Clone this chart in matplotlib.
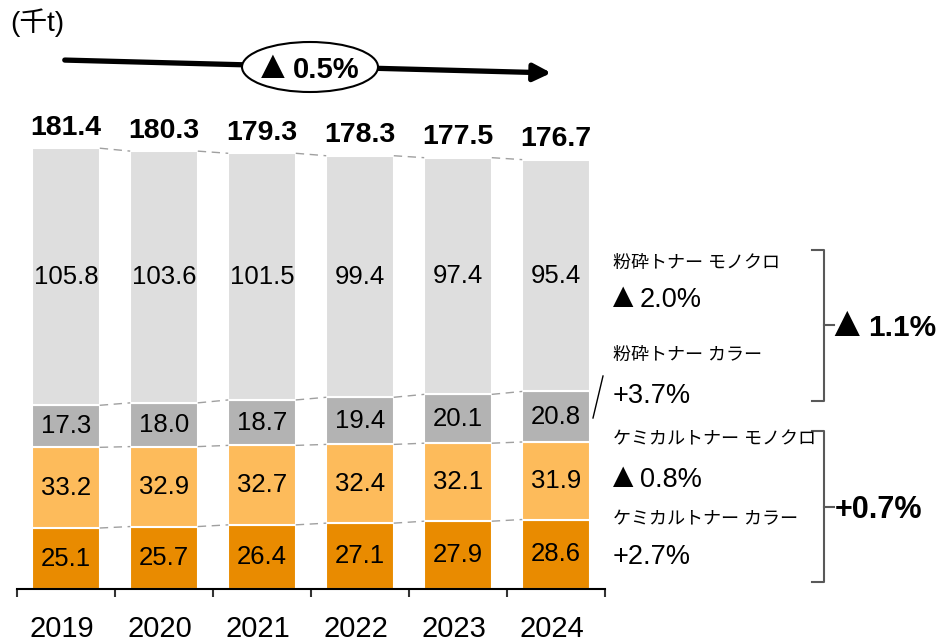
import numpy as np
import matplotlib
matplotlib.use("Agg")
import matplotlib.pyplot as plt
from matplotlib.patches import Ellipse, FancyArrowPatch
from matplotlib.lines import Line2D

plt.rcParams['font.family'] = ['Liberation Sans', 'Noto Sans CJK JP', 'DejaVu Sans']

# data (thousand tonnes)
years = ["2019", "2020", "2021", "2022", "2023", "2024"]
chem_color = [25.1, 25.7, 26.4, 27.1, 27.9, 28.6]
chem_mono = [33.2, 32.9, 32.7, 32.4, 32.1, 31.9]
pulv_color = [17.3, 18.0, 18.7, 19.4, 20.1, 20.8]
pulv_mono = [105.8, 103.6, 101.5, 99.4, 97.4, 95.4]
totals = [181.4, 180.3, 179.3, 178.3, 177.5, 176.7]

series = [chem_color, chem_mono, pulv_color, pulv_mono]
colors = ["#E98B00", "#FDBB5B", "#B3B3B3", "#DEDEDE"]

W, H = 938, 642
fig = plt.figure(figsize=(W / 100, H / 100), dpi=100)


def fx(x):
    return x / W


def fy(y):
    return 1 - y / H


# axes placed in pixel terms: left 17, right 605, baseline 589, top 100
ax = fig.add_axes([fx(17), fy(589), fx(605) - fx(17), fy(100) - fy(589)])
x = np.arange(len(years))
bw = 0.69
bottom = np.zeros(len(years))
for vals, c in zip(series, colors):
    vals = np.array(vals)
    ax.bar(x, vals, bw, bottom=bottom, color=c, edgecolor="white", linewidth=1.5)
    for xi, b, v in zip(x, bottom, vals):
        ax.text(xi, b + v / 2, f"{v:.1f}", ha="center", va="center", fontsize=18.5)
    bottom = bottom + vals
    # dashed connectors between bars
    for i in range(len(years) - 1):
        ax.plot([i + bw / 2, i + 1 - bw / 2], [bottom[i], bottom[i + 1]],
                color="#A0A0A0", lw=1, ls=(0, (6, 4)))

for xi, t in zip(x, totals):
    ax.text(xi, t + 3, f"{t:.1f}", ha="center", va="bottom", fontsize=20.5, fontweight="bold")

ax.set_xlim(-0.5, 5.5)
ax.set_ylim(0, 489 / 2.43)
for s in ["top", "right", "left"]:
    ax.spines[s].set_visible(False)
ax.spines["bottom"].set_linewidth(1.5)
ax.set_yticks([])
ax.set_xticks(np.arange(-0.5, 6.0, 1.0))
ax.set_xticklabels([])
ax.tick_params(axis="x", which="major", direction="out", length=6, width=1.5, color="#333333")
ax.set_xticks(x - 0.045, minor=True)
ax.set_xticklabels(years, minor=True, fontsize=21)
ax.tick_params(axis="x", which="minor", length=0, pad=19)

# unit label
fig.text(fx(10), fy(23), "(千t)", fontsize=20, va="center", ha="left")


def tri_label(x_num, base, num, fs_tri, fs_num, weight="normal"):
    # triangle a little larger than the digits, as in the source;
    # it ends where the number starts
    fig.text(fx(x_num), fy(base), "▲", fontsize=fs_tri, fontweight=weight,
             ha="right", va="baseline", zorder=4)
    fig.text(fx(x_num), fy(base), num, fontsize=fs_num, fontweight=weight,
             ha="left", va="baseline", zorder=4)


# overall trend arrow with ellipse
arrow = FancyArrowPatch((fx(62), fy(60)), (fx(554), fy(73)), transform=fig.transFigure,
                        arrowstyle="-|>", mutation_scale=26, lw=3.8, color="black")
fig.add_artist(arrow)
ell = Ellipse((fx(310), fy(67)), fx(136), 50 / H, transform=fig.transFigure,
              facecolor="white", edgecolor="black", lw=1.5, zorder=3)
fig.add_artist(ell)
tri_label(293, 78, "0.5%", 29, 21, "bold")

# right-hand annotations
jp_labels = [
    (263, "粉砕トナー モノクロ"),
    (355, "粉砕トナー カラー"),
    (440, "ケミカルトナー モノクロ"),
    (520, "ケミカルトナー カラー"),
]
for y, s in jp_labels:
    fig.text(fx(613), fy(y), s, fontsize=13, ha="left", va="center")

tri_label(640, 307, "2.0%", 25, 19.5)
fig.text(fx(613), fy(403), "+3.7%", fontsize=19.5, ha="left", va="baseline")
tri_label(640, 487, "0.8%", 25, 19.5)
fig.text(fx(613), fy(564), "+2.7%", fontsize=19.5, ha="left", va="baseline")

fig.add_artist(Line2D([fx(603), fx(593)], [fy(376), fy(418)], color="black", lw=1))

brackets = [(250, 401, 325), (431, 582, 507)]
for top, bot, mid in brackets:
    fig.add_artist(Line2D([fx(812), fx(824), fx(824), fx(812)], [fy(top), fy(top), fy(bot), fy(bot)],
                          color="#595959", lw=1.5))
    fig.add_artist(Line2D([fx(824), fx(834)], [fy(mid), fy(mid)], color="#595959", lw=1.5))
tri_label(868, 336, "1.1%", 31, 21.5, "bold")
fig.text(fx(835), fy(518), "+0.7%", fontsize=22, fontweight="bold", ha="left", va="baseline")

fig.savefig("out.png", dpi=100)
